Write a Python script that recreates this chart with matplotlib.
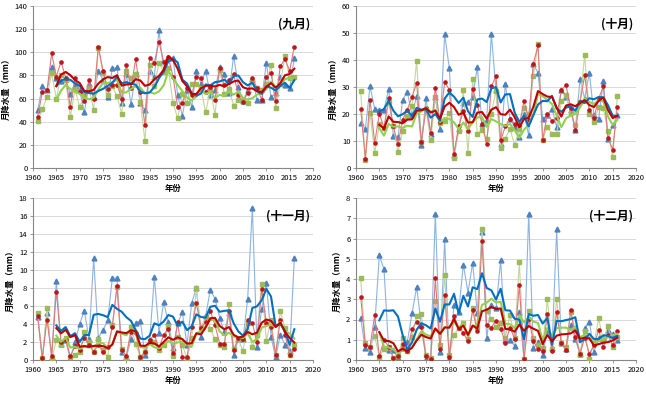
import numpy as np
import pandas as pd
import matplotlib
matplotlib.use("Agg")
import matplotlib.pyplot as plt

plt.rcParams["font.family"] = ["Noto Sans CJK SC", "DejaVu Sans"]

years = list(range(1961, 2017))

# September (mm)
sep_blue = [50, 71, 67, 87, 78, 75, 77, 64, 72, 67, 48, 73, 61, 84, 76, 61, 86, 87, 56, 81,
            55, 81, 56, 50, 84, 79, 119, 84, 95, 95, 63, 45, 67, 53, 84, 73, 84, 63, 67, 87,
            81, 65, 97, 70, 58, 67, 77, 59, 59, 91, 61, 65, 79, 72, 69, 95]
sep_red = [44, 66, 67, 99, 79, 92, 78, 53, 78, 66, 58, 76, 60, 105, 84, 68, 72, 72, 60, 89,
           69, 94, 66, 37, 95, 91, 109, 92, 96, 79, 53, 56, 69, 63, 79, 78, 66, 70, 59, 86,
           72, 76, 81, 63, 57, 65, 78, 69, 59, 79, 82, 58, 88, 94, 84, 105]
sep_green = [41, 51, 61, 82, 60, 80, 76, 44, 68, 53, 63, 69, 50, 104, 82, 63, 71, 62, 47, 84,
             78, 81, 57, 23, 89, 71, 91, 83, 86, 56, 43, 64, 56, 73, 73, 69, 48, 68, 46, 85,
             64, 68, 54, 59, 58, 56, 75, 69, 67, 73, 89, 52, 73, 97, 78, 79]

# October (mm)
oct_blue = [16.7, 14.3, 30.2, 22, 21.4, 21.4, 29.4, 12, 11.5, 25.3, 28.1, 19.5, 26.8, 8.4,
            25.8, 12.7, 26.3, 14.3, 49.5, 37, 5, 14.6, 24.1, 24.4, 26.3, 37.4, 16.4, 17.7,
            49.5, 28.8, 9, 31.2, 18.3, 15.2, 11.5, 20.1, 12.1, 38.6, 35.2, 18.3, 19.5, 22,
            15.2, 29, 26.3, 21.4, 14, 32.8, 25.7, 35.2, 19.5, 18.3, 32.2, 10.9, 15.8, 19.5]
oct_red = [22, 3.5, 25.3, 9.3, 20.1, 14.9, 25.9, 15.4, 8.8, 17.9, 21.6, 26.3, 31.5, 9.6,
           22.1, 13.1, 29.8, 17, 31.9, 29, 5.3, 15.4, 21, 13.6, 29.4, 23.2, 16.4, 8.8,
           30.2, 34, 10.2, 15.4, 18.3, 16.2, 15.8, 24.8, 17.9, 38.6, 45.4, 10.2, 20.1, 17.4,
           18.6, 29, 30.6, 22.3, 14, 24.4, 34.3, 21.6, 18.6, 25.7, 30.2, 11.2, 6.8, 22.6]
oct_green = [28.5, 2.8, 20.5, 5.6, 16.2, 14.9, 24.4, 15.4, 5.9, 13.6, 19.1, 22.8, 39.5, 9.6,
             22, 10.2, 26.3, 16.7, 17.4, 20.4, 3.8, 13.6, 29, 5.6, 32.8, 12.7, 14.2, 10.9,
             20.1, 28.5, 7.5, 10.9, 14.6, 8.4, 14.6, 22.3, 20.1, 34, 46, 10.5, 15.2, 12.7,
             12.5, 24.7, 26.9, 20.4, 15.8, 24.4, 41.7, 19.9, 17, 22.6, 22.3, 13.7, 4.1, 26.5]

# November (mm)
nov_blue = [4.8, 0.1, 5.2, 0.3, 8.8, 1.8, 2.2, 0.1, 2, 4, 5.5, 2.3, 11.3, 2.5, 3.3, 4.4,
            9.1, 9.1, 0.9, 0.3, 2.3, 4.1, 4.3, 0.6, 2.2, 9.2, 3, 6.4, 4.2, 1.3, 4.1, 5.3,
            1.7, 6.3, 8, 2.6, 4.9, 7.8, 6.8, 4.7, 3.1, 5.2, 0.6, 2.3, 2.3, 6.8, 16.9, 1.5,
            5.7, 8.6, 2.6, 0.3, 2.8, 1.7, 1, 11.3]
nov_red = [4.9, 0.2, 4.5, 0.5, 7.6, 2, 2.2, 0.4, 1.6, 1.1, 2.5, 1.7, 0.9, 1.7, 0.9, 1.4,
           3.7, 8.2, 1.1, 0.5, 3.1, 3, 0.3, 0.9, 2.2, 2.8, 1.3, 2.8, 3.5, 0.8, 4.2, 0.3,
           0.3, 3.7, 6.3, 3.6, 4.2, 5.4, 3.9, 1.8, 1.8, 5.4, 1.1, 2.4, 2.3, 4.4, 4.1, 2,
           7.9, 4.1, 3.7, 0.6, 4.5, 2.8, 0.6, 1.2]
nov_green = [5.2, 0.2, 5.8, 0.1, 2.2, 1.8, 2.5, 0.3, 0.6, 0.9, 3.1, 2, 0.9, 2.3, 1.1, 0.3,
             3.9, 8.1, 1.2, 0.2, 3.7, 1.8, 0.3, 0.9, 2.1, 2, 1.1, 1.7, 3.8, 0.5, 2.6, 1.7,
             0.1, 2.4, 8, 3.6, 4.8, 3.5, 2.3, 1.7, 1.5, 6.2, 1.2, 2.3, 1, 4.1, 1.5, 2.8,
             8.5, 2.1, 4.5, 0.6, 5.4, 3.6, 0.6, 1.7]

# December (mm)
dec_blue = [2.05, 0.57, 0.38, 1.64, 5.17, 4.48, 0.49, 0.49, 0.1, 0.57, 0.9, 2.3, 3.6, 1.72,
            0.05, 0.1, 7.22, 0.38, 5.96, 0.05, 2.74, 2.38, 4.71, 3.33, 4.79, 2.3, 6.3, 1.07,
            2.74, 2.55, 4.93, 0.99, 0.99, 0.7, 2.38, 0.05, 7.22, 0.57, 0.9, 0.25, 1.48, 0.57,
            6.45, 0.82, 0.54, 1.72, 1.03, 0.28, 1.56, 1.89, 0.41, 1.07, 1.15, 1.48, 1.26, 0.99]
dec_red = [3.13, 0.72, 0.65, 2.2, 0.18, 1.0, 0.65, 0.12, 0.2, 0.78, 0.42, 1.52, 1.9, 1.62,
           0.2, 0.05, 4.03, 0.55, 3.2, 0.15, 2.18, 1.6, 1.35, 0.92, 2.45, 1.42, 5.9, 1.72,
           1.6, 1.95, 1.55, 0.85, 1.6, 1.05, 3.68, 0.03, 2.02, 0.95, 0.52, 0.42, 2.28, 0.42,
           2.38, 0.82, 0.5, 2.45, 1.15, 0.3, 1.1, 0.32, 0.72, 1.48, 0.65, 1.25, 0.72, 1.42]
dec_green = [4.05, 0.82, 0.62, 1.18, 0.15, 0.55, 0.62, 0.12, 0.2, 1.08, 0.45, 1.15, 2.15, 2.25,
             0.25, 0.08, 2.92, 0.75, 4.18, 0.25, 1.22, 1.6, 1.85, 1.05, 2.58, 1.65, 6.48, 2.4,
             2.02, 1.65, 1.82, 1.1, 2.22, 1.1, 4.82, 0.05, 2.42, 1.1, 0.75, 0.6, 3.0, 0.55,
             3.0, 0.82, 0.62, 2.35, 1.5, 0.32, 1.42, 0.05, 0.82, 2.05, 0.95, 1.7, 0.62, 1.15]

panels = [
    ("(九月)", sep_blue, sep_red, sep_green, 140, 20),
    ("(十月)", oct_blue, oct_red, oct_green, 60, 10),
    ("(十一月)", nov_blue, nov_red, nov_green, 18, 2),
    ("(十二月)", dec_blue, dec_red, dec_green, 8, 1),
]

# axes rectangles in pixels: left, top, right, bottom
W, H = 646, 395
rects = [(33, 6, 313, 168), (356, 6, 636, 168), (33, 198, 313, 360), (356, 198, 636, 360)]


def draw(ax, title, blue, red, green, ymax, ystep):
    x = np.array(years)
    ax.plot(x, blue, color="#8db3e2", lw=0.8, marker="^", ms=3.5,
            mfc="#4f81bd", mec="#4f81bd", zorder=2)
    ax.plot(x, green, color="#c3d69b", lw=0.8, marker="s", ms=3.3,
            mfc="#9bbb59", mec="#9bbb59", zorder=3)
    ax.plot(x, red, color="#e0787a", lw=0.8, marker="o", ms=2.3,
            mfc="#c0151b", mec="#c0151b", zorder=4)
    # 5-year moving averages
    for vals, c, z in ((green, "#92d050", 5), (blue, "#0070c0", 6), (red, "#c00000", 7)):
        ma = pd.Series(vals, index=x).rolling(5).mean()
        ax.plot(x, ma.values, color=c, lw=1.5, zorder=z)

    ax.set_xlim(1960, 2020)
    ax.set_ylim(0, ymax)
    ax.set_xticks(range(1960, 2021, 5))
    ax.set_yticks(np.arange(0, ymax + ystep / 2, ystep))
    ax.grid(axis="y", color="#d9d9d9", lw=0.7)
    ax.set_axisbelow(True)
    for s in ("top", "right"):
        ax.spines[s].set_visible(False)
    for s in ("left", "bottom"):
        ax.spines[s].set_color("#868686")
        ax.spines[s].set_linewidth(0.8)
    ax.tick_params(labelsize=5.5, length=2.5, width=0.6, color="#868686", pad=1.5)
    ax.set_xlabel("年份", fontsize=6, fontweight="bold", labelpad=2)
    ax.set_ylabel("月降水量（mm）", fontsize=6, fontweight="bold", labelpad=3)
    ax.text(0.99, 0.93, title, transform=ax.transAxes, ha="right", va="top",
            fontsize=8.5, fontweight="bold")


fig = plt.figure(figsize=(W / 100, H / 100), dpi=100)
for (l, t, r, b), p in zip(rects, panels):
    ax = fig.add_axes([l / W, 1 - b / H, (r - l) / W, (b - t) / H])
    draw(ax, *p)

fig.savefig("out.png", dpi=100)
